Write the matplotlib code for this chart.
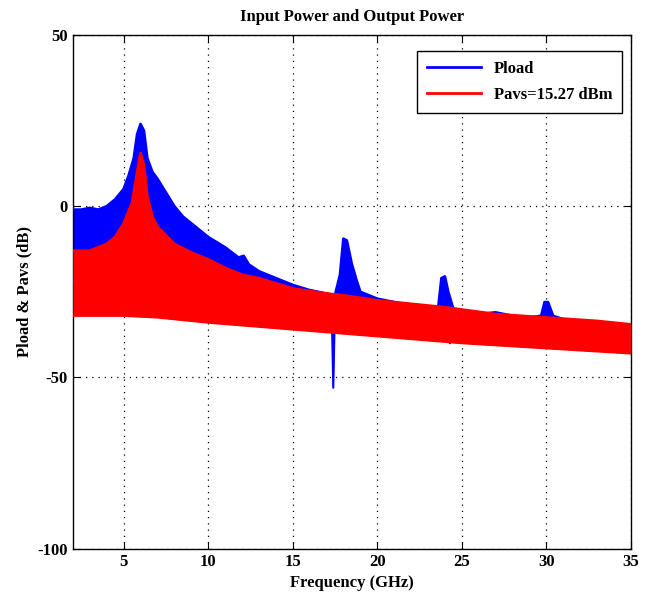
import numpy as np
import matplotlib
matplotlib.use('Agg')
import matplotlib.pyplot as plt

plt.rcParams['font.family'] = ['Liberation Serif', 'DejaVu Serif']
plt.rcParams['font.weight'] = 'bold'
plt.rcParams['axes.unicode_minus'] = False

# Pload envelope (GHz, dB)
pload_f_hi = [2.0, 2.5, 3.0, 3.5, 4.0, 4.5, 5.0, 5.3, 5.6, 5.8, 6.0, 6.2, 6.4, 6.7,
              7.0, 7.5, 8.0, 8.5, 9.0, 9.5, 10.0, 11.0, 11.8, 12.1, 12.4, 13.0,
              14.0, 15.0, 16.0, 17.0, 17.5, 17.8, 18.0, 18.2, 18.5, 18.8, 19.0,
              20.0, 21.0, 22.0, 23.0, 23.6, 23.8, 24.0, 24.2, 24.5, 25.0, 26.0,
              27.0, 28.0, 29.0, 29.7, 29.9, 30.1, 30.4, 31.0, 32.0, 33.0, 34.0, 35.0]
pload_hi = [-1, -1, -0.5, -1, 0, 2, 5, 9, 14, 21, 24, 22, 14, 10,
            8, 4, 0, -3, -5, -7, -9, -12, -15, -14.5, -17, -19,
            -21, -23, -24.5, -25.5, -26, -20, -9.5, -10, -17, -22, -25,
            -27, -28, -29, -30, -30, -21, -20.5, -25, -30, -31, -31.5,
            -31, -32, -32.5, -32, -28, -28, -32, -33, -34, -34.5, -35, -35.5]
pload_f_lo = [2.0, 3.0, 4.0, 5.0, 5.5, 5.8, 6.0, 6.2, 6.5, 7.0, 8.0, 10.0, 12.0,
              15.0, 17.3, 17.4, 17.5, 18.0, 20.0, 22.0, 24.0, 24.3, 24.5, 27.0,
              30.0, 35.0]
pload_lo = [-22, -20, -18, -15, -10, -3, 8, 5, -5, -8, -14, -18, -23,
            -27, -28, -53, -29, -29, -30, -32, -34, -40, -33, -34,
            -36, -38]

# Pavs envelope (GHz, dB)
pavs_f_hi = [2.0, 3.0, 4.0, 4.5, 5.0, 5.5, 5.8, 6.0, 6.2, 6.4, 6.7, 7.0, 8.0, 9.0,
             10.0, 11.0, 12.0, 13.0, 15.0, 17.0, 18.0, 20.0, 22.0, 24.0, 27.0,
             30.0, 33.0, 35.0]
pavs_hi = [-13, -13, -11, -9, -5, 1, 10, 15.5, 12, 3, -3, -6, -11, -13.5,
           -15.5, -18, -20, -21, -24, -25.5, -26, -27.5, -28.5, -29.5, -31.5,
           -32.5, -33.5, -34.5]
pavs_f_lo = [2.0, 5.0, 7.0, 10.0, 15.0, 20.0, 25.0, 30.0, 35.0]
pavs_lo = [-32, -32, -32.5, -34, -36, -38, -40, -41.5, -43]

blue = '#0000ff'
red = '#ff0000'

fig = plt.figure(figsize=(6.51, 6.03), dpi=100)
ax = fig.add_axes([0.112, 0.090, 0.857, 0.852])

# Pload band
f_b = np.union1d(pload_f_hi, pload_f_lo)
ax.fill_between(f_b, np.interp(f_b, pload_f_lo, pload_lo), np.interp(f_b, pload_f_hi, pload_hi),
                color=blue, lw=0, zorder=2)
ax.plot(pload_f_hi, pload_hi, color=blue, lw=2, label='Pload', zorder=3)
ax.plot(pload_f_lo, pload_lo, color=blue, lw=1.5, zorder=3)

# Pavs band
f_r = np.union1d(pavs_f_hi, pavs_f_lo)
ax.fill_between(f_r, np.interp(f_r, pavs_f_lo, pavs_lo), np.interp(f_r, pavs_f_hi, pavs_hi),
                color=red, lw=0, zorder=4)
ax.plot(pavs_f_hi, pavs_hi, color=red, lw=2, label='Pavs=15.27 dBm', zorder=5)
ax.plot(pavs_f_lo, pavs_lo, color=red, lw=1.5, zorder=5)

ax.set_xlim(2, 35)
ax.set_ylim(-100, 50)
ax.set_xticks([5, 10, 15, 20, 25, 30, 35])
ax.set_yticks([-100, -50, 0, 50])
ax.tick_params(direction='in', labelsize=12, length=5, top=True, right=True)
ax.grid(True, color='k', linestyle=(0, (1, 4)), lw=0.9, zorder=1)
ax.set_axisbelow(True)
for s in ax.spines.values():
    s.set_linewidth(1.0)

ax.set_title('Input Power and Output Power', fontsize=12, fontweight='bold', pad=10)
ax.set_xlabel('Frequency (GHz)', fontsize=12, fontweight='bold')
ax.set_ylabel('Pload & Pavs (dB)', fontsize=12, fontweight='bold')

leg = ax.legend(loc='upper right', fontsize=12, fancybox=False, framealpha=1,
                edgecolor='k', handlelength=3.2, borderpad=0.6, labelspacing=0.6,
                bbox_to_anchor=(1.0, 0.985))
leg.get_frame().set_linewidth(1.0)
leg.set_zorder(10)

fig.savefig('out.png', dpi=100)
